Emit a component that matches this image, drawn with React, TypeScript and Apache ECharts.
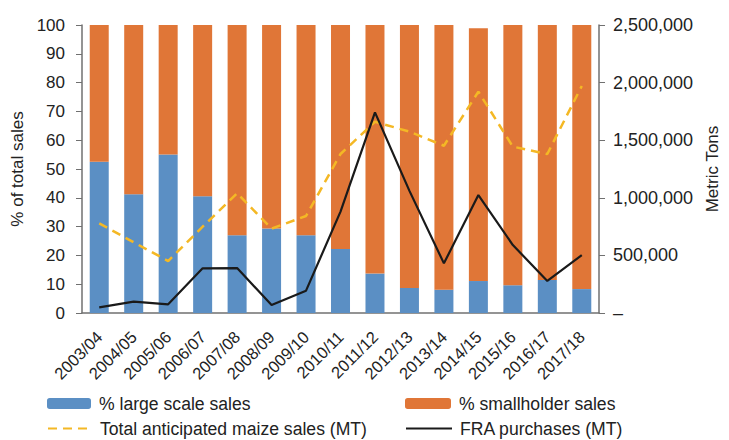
import React, { useEffect, useRef } from "react";
import * as echarts from "echarts";

const categories = ["2003/04","2004/05","2005/06","2006/07","2007/08","2008/09","2009/10","2010/11","2011/12","2012/13","2013/14","2014/15","2015/16","2016/17","2017/18"];
const largeScale = [52.5, 41.2, 55, 40.5, 27, 29.3, 27, 22.2, 13.7, 8.7, 8.1, 11.1, 9.6, 11.5, 8.3];
const smallholder = [47.5, 58.8, 45, 59.5, 73, 70.7, 73, 77.8, 86.3, 91.3, 91.9, 87.8, 90.4, 88.5, 91.7];
const totalAnticipated = [778000, 614000, 451000, 749000, 1039000, 732000, 842000, 1380000, 1660000, 1574000, 1452000, 1921000, 1444000, 1380000, 1970000];
const fraPurchases = [49000, 98000, 75000, 388000, 390000, 69000, 194000, 880000, 1742000, 1060000, 431000, 1024000, 590000, 278000, 503000];
const leftTicks = { min: 0, max: 100, interval: 10 };
const rightTicks = { min: 0, max: 2500000, interval: 500000 };

const FONT = "Liberation Sans, Arial, sans-serif";
const TXT = "#222";
const AX = "#707070";

export default function App() {
  const ref = useRef<HTMLDivElement>(null);
  useEffect(() => {
    if (!ref.current) return;
    const chart = echarts.init(ref.current, null, { renderer: "svg" });
    const legendText = { fontSize: 17.6, color: TXT, fontFamily: FONT, lineHeight: 19, padding: [0, 0, 0, 3] };
    chart.setOption({
      animation: false,
      textStyle: { fontFamily: FONT },
      grid: { left: 82, right: 121, top: 25, bottom: 127 },
      legend: [
        { data: ["% large scale sales"], left: 45, top: 392, itemWidth: 44, itemHeight: 11, textStyle: legendText, padding: 2 },
        { data: ["% smallholder sales"], left: 403, top: 392, itemWidth: 46, itemHeight: 11, textStyle: legendText, padding: 2 },
        { data: ["Total anticipated maize sales (MT)"], left: 45, top: 417, itemWidth: 44, itemHeight: 11, textStyle: legendText, padding: 2, itemStyle: { opacity: 0 } },
        { data: ["FRA purchases (MT)"], left: 403, top: 417, itemWidth: 46, itemHeight: 11, textStyle: legendText, padding: 2, itemStyle: { opacity: 0 } },
      ],
      xAxis: {
        type: "category",
        data: categories,
        axisLine: { lineStyle: { color: AX, width: 1.5 } },
        axisTick: { show: false },
        axisLabel: { rotate: 45, fontSize: 16.5, color: TXT, interval: 0, margin: 21 },
      },
      yAxis: [
        {
          type: "value",
          ...leftTicks,
          name: "% of total sales",
          nameLocation: "middle",
          nameRotate: 90,
          nameGap: 55,
          nameTextStyle: { fontSize: 17, color: TXT },
          axisLine: { show: true, lineStyle: { color: AX, width: 1.5 } },
          axisTick: { show: true, length: 6, lineStyle: { color: AX } },
          splitLine: { show: false },
          axisLabel: { fontSize: 17, color: TXT, margin: 17 },
        },
        {
          type: "value",
          ...rightTicks,
          position: "right",
          name: "Metric Tons",
          nameLocation: "middle",
          nameRotate: 90,
          nameGap: 100,
          nameTextStyle: { fontSize: 17, color: TXT },
          axisLine: { show: true, lineStyle: { color: AX, width: 1.5 } },
          axisTick: { show: true, length: 6, lineStyle: { color: AX } },
          splitLine: { show: false },
          axisLabel: {
            fontSize: 18,
            color: TXT,
            margin: 14,
            formatter: (v: number) => (v === 0 ? "–" : v.toLocaleString("en-US")),
          },
        },
      ],
      series: [
        {
          name: "% large scale sales",
          type: "bar",
          stack: "s",
          data: largeScale,
          barWidth: 19,
          itemStyle: { color: "#5b8fc4" },
        },
        {
          name: "% smallholder sales",
          type: "bar",
          stack: "s",
          data: smallholder,
          barWidth: 19,
          itemStyle: { color: "#e07637" },
        },
        {
          name: "Total anticipated maize sales (MT)",
          type: "line",
          yAxisIndex: 1,
          data: totalAnticipated,
          symbol: "none",
          itemStyle: { color: "#f4b825" },
          lineStyle: { color: "#f4b825", width: 2.5, type: [9, 6] },
        },
        {
          name: "FRA purchases (MT)",
          type: "line",
          yAxisIndex: 1,
          data: fraPurchases,
          symbol: "none",
          itemStyle: { color: "#1a1a1a" },
          lineStyle: { color: "#1a1a1a", width: 2.2 },
        },
      ],
    });
    return () => chart.dispose();
  }, []);
  return <div ref={ref} style={{ width: 729, height: 440, position: "absolute", left: 0, top: 0 }} />;
}
